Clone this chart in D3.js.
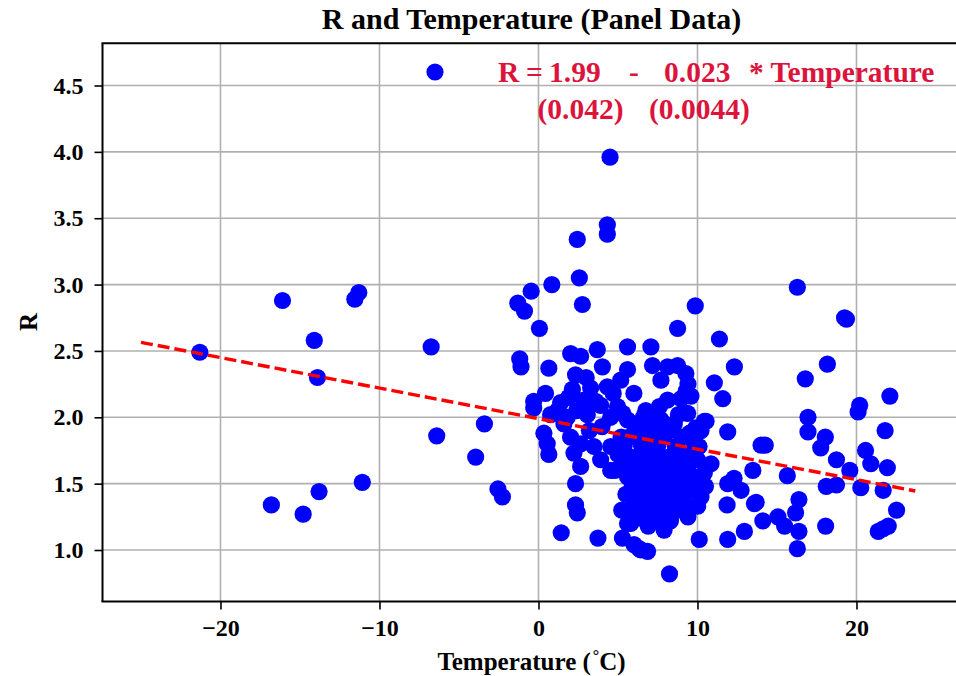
<!DOCTYPE html>
<html><head><meta charset="utf-8">
<script src="https://cdn.jsdelivr.net/npm/d3@7"></script>
<style>
body{margin:0;background:#fff}
text{font-family:"Liberation Serif","Times New Roman",serif;font-weight:bold}
</style>
</head><body><svg id="c" width="956" height="676"></svg>
<script>
// ---- data (Temperature °C, R) ----
const leftPoints = [[-21.3,2.49],[-16.8,1.34],[-16.1,2.88],[-14.8,1.27],[-14.1,2.58],[-13.9,2.30],[-13.8,1.44],
 [-11.55,2.89],[-11.3,2.94],[-11.08,1.51],[-6.75,2.53],[-6.4,1.86],[-3.4,1.95],[-3.95,1.70],[-2.55,1.46],[-2.27,1.40]];
const upperPoints = [[-0.46,2.95],[-1.3,2.86],[-0.88,2.80],[0.06,2.67],[-1.18,2.44],[-1.1,2.38],[-0.3,2.12],[-0.3,2.07],
 [0.84,3.00],[2.44,3.34],[2.57,3.05],[2.76,2.85],[4.33,3.45],[4.33,3.38],[4.5,3.96],[0.65,2.37],[2.02,2.48],[2.65,2.46],
 [3.7,2.51],[4.02,2.38],[5.6,2.53],[2.33,2.32],[0.44,2.18],[1.39,2.11],[2.13,2.21],[3.28,2.22],[4.33,2.23],[2.86,2.13],
 [3.91,2.09],[4.97,2.08],[5.17,2.28],[5.6,2.36],[6.0,2.18],[0.76,2.02],[1.81,2.00],[3.07,2.02],[4.54,2.00],[5.6,1.98],
 [0.34,1.88],[0.55,1.80],[0.65,1.72],[2.02,1.85],[2.65,1.80],[2.23,1.73],[3.49,1.78],[4.54,1.78],[2.65,1.63],[3.91,1.68],
 [4.54,1.60],[5.38,1.78],[2.33,1.50],[2.33,1.34],[2.44,1.28],[1.43,1.13],[3.74,1.09],[5.28,1.09],[6.33,1.01],[6.86,0.99],
 [5.24,1.30],[1.9,2.15],[3.0,2.30],[3.6,2.12],[4.7,2.18],[5.3,2.03],[1.2,2.05],[2.4,2.05],[4.0,1.93],[3.2,1.90],[1.6,1.95]];
const midPoints = [[7.07,2.53],[7.17,2.39],[8.12,2.38],[8.75,2.39],[9.27,2.33],[7.7,2.28],[8.75,2.67],[9.86,2.84],
 [11.38,2.59],[12.32,2.38],[11.06,2.26],[11.59,2.14],[8.12,2.13],[8.96,2.14],[9.59,2.16],[6.75,2.05],[7.7,1.98],[8.54,1.95],
 [9.38,2.03],[10.43,1.97],[10.22,1.90],[11.9,1.89],[14.0,1.79],[6.44,1.80],[7.49,1.78],[8.75,1.75],[9.8,1.78],[10.85,1.65],
 [10.43,1.58],[11.9,1.50],[12.3,1.54],[12.74,1.45],[13.48,1.60],[13.58,1.35],[12.95,1.14],[11.9,1.08],[11.86,1.34],
 [10.11,1.08],[10.22,1.40],[10.01,1.33],[9.17,1.38],[7.9,1.15],[6.01,1.35],[5.6,1.20],[6.64,1.23],[8.33,1.28],[8.24,0.82],
 [6.01,1.04],[6.44,1.00],[9.76,1.82],[9.4,2.25],[9.3,2.20]];
const clusterPoints = [[5.6,1.55],[5.9,1.48],[6.1,1.62],[6.3,1.40],[6.4,1.72],[6.6,1.52],[6.8,1.35],[6.9,1.66],[7.0,1.45],
 [7.2,1.58],[7.3,1.28],[7.4,1.75],[7.5,1.50],[7.6,1.38],[7.7,1.63],[7.8,1.44],[7.9,1.85],[8.0,1.55],[8.1,1.32],[8.2,1.70],
 [8.3,1.48],[8.4,1.60],[8.5,1.40],[8.6,1.78],[8.7,1.52],[8.8,1.65],[8.9,1.45],[9.0,1.58],[9.1,1.35],[9.2,1.72],[9.3,1.50],
 [9.4,1.62],[9.6,1.45],[9.8,1.55],[10.0,1.68],[5.8,1.70],[6.0,1.30],[6.2,1.85],[6.5,1.25],[6.7,1.80],[7.1,1.90],[7.3,1.68],
 [7.5,1.82],[7.8,1.30],[8.0,1.88],[8.3,1.22],[8.7,1.30],[9.0,1.85],[6.3,1.58],[6.9,1.48],[7.6,1.55],[8.2,1.42],[8.6,1.58],
 [5.3,1.65],[5.5,1.42],[5.2,1.85],[5.0,1.72],[4.8,1.60],[6.0,1.95],[6.6,2.00],[7.4,1.98],[8.4,1.92],[9.5,1.88],[10.3,1.55],
 [10.5,1.48],[5.8,1.20],[6.9,1.18],[7.7,1.20],[9.4,1.25],[9.7,1.68],[10.1,1.78],[9.9,1.92],[8.8,2.02],[5.7,1.85],
 [6.8,1.92],[7.6,2.08]];
const rightPoints = [[16.28,2.98],[19.37,2.74],[19.25,2.75],[18.17,2.40],[16.78,2.29],[22.1,2.16],[20.2,2.09],[20.1,2.04],
 [16.95,2.00],[16.95,1.89],[10.54,1.97],[21.8,1.90],[18.04,1.85],[17.75,1.77],[14.26,1.79],[20.57,1.75],[20.9,1.65],
 [18.74,1.68],[19.58,1.60],[21.94,1.62],[15.65,1.56],[18.1,1.48],[18.74,1.49],[20.27,1.47],[21.68,1.45],[13.69,1.36],
 [16.38,1.38],[22.52,1.30],[14.11,1.22],[15.06,1.25],[15.48,1.18],[16.17,1.28],[16.38,1.14],[18.06,1.18],[16.28,1.01],
 [21.37,1.14],[22.0,1.18],[21.68,1.16]];

const fitRange = [-25, 23.7];
const intercept = 1.99, slope = -0.023;
const interceptSE = 0.042, slopeSE = 0.0044;
const xTicks = [-20,-10,0,10,20];
const yTicks = [1.0,1.5,2.0,2.5,3.0,3.5,4.0,4.5];
const titleText = "R and Temperature (Panel Data)";

// ---- drawing ----
const svg = d3.select("#c");
const L = 102.5, R = 960, T = 43.3, B = 601.5;
const x = d3.scaleLinear().domain([-27.42, 26.51]).range([L, R]);
const y = d3.scaleLinear().domain([0.612, 4.818]).range([B, T]);

const grid = svg.append("g").attr("stroke","#b0b0b0").attr("stroke-width",1.6);
grid.selectAll(".gx").data(xTicks).join("line").attr("x1",d=>x(d)).attr("x2",d=>x(d)).attr("y1",T).attr("y2",B);
grid.selectAll(".gy").data(yTicks).join("line").attr("y1",d=>y(d)).attr("y2",d=>y(d)).attr("x1",L).attr("x2",956);

const allPoints = [].concat(leftPoints, upperPoints, midPoints, clusterPoints, rightPoints);
svg.append("g").selectAll("circle").data(allPoints).join("circle")
  .attr("cx",d=>x(d[0])).attr("cy",d=>y(d[1])).attr("r",8.6).attr("fill","#0000ff");

svg.append("line")
  .attr("x1",x(fitRange[0])).attr("y1",y(intercept+slope*fitRange[0]))
  .attr("x2",x(fitRange[1])).attr("y2",y(intercept+slope*fitRange[1]))
  .attr("stroke","#ff0000").attr("stroke-width",3.4).attr("stroke-dasharray","12,5");

// axes
const fmt = d => d<0 ? "\u2212"+Math.abs(d) : String(d);
const gx = svg.append("g").attr("transform",`translate(0,${B})`)
  .call(d3.axisBottom(x).tickValues(xTicks).tickFormat(fmt).tickSize(8).tickPadding(9));
const gy = svg.append("g").attr("transform",`translate(${L},0)`)
  .call(d3.axisLeft(y).tickValues(yTicks).tickFormat(d3.format(".1f")).tickSize(8).tickPadding(11));
[gx,gy].forEach(g=>{
  g.select(".domain").remove();
  g.selectAll(".tick line").attr("stroke","#000").attr("stroke-width",1.6);
  g.selectAll(".tick text").attr("fill","#000").style("font-size","24px")
   .style("font-family","'Liberation Serif',serif").style("font-weight","bold");
});
// spines
svg.append("line").attr("x1",L).attr("x2",L).attr("y1",T).attr("y2",B).attr("stroke","#000").attr("stroke-width",2);
svg.append("line").attr("x1",L-1).attr("x2",956).attr("y1",B).attr("y2",B).attr("stroke","#000").attr("stroke-width",2);
svg.append("line").attr("x1",L-1).attr("x2",956).attr("y1",T).attr("y2",T).attr("stroke","#000").attr("stroke-width",2);

// title & labels
svg.append("text").attr("x",531.5).attr("y",29).attr("text-anchor","middle").style("font-size","30px").text(titleText);
const xl = svg.append("text").attr("x",531.5).attr("y",670).attr("text-anchor","middle").style("font-size","25px");
xl.append("tspan").text("Temperature (");
xl.append("tspan").attr("dx",2).attr("dy",-9).style("font-size","16px").text("\u00B0");
xl.append("tspan").attr("dy",9).text("C)");
svg.append("text").attr("transform","translate(36.5,322) rotate(-90)").attr("text-anchor","middle")
  .style("font-size","25px").text("R");

// legend
svg.append("circle").attr("cx",435).attr("cy",72).attr("r",8.6).attr("fill","#0000ff");
const lg = svg.append("g").attr("fill","#dc143c").style("font-size","29.5px");
const pieces = [
  ["R",498,82],["=",526,82],[intercept.toFixed(2),549,82],["-",629,82],[String(-slope),664,82],["* Temperature",749,82],
  ["("+interceptSE+")",537.5,119],["("+slopeSE+")",649,119]
];
pieces.forEach(p=>lg.append("text").attr("x",p[1]).attr("y",p[2]).text(p[0]));
</script>
</body></html>
